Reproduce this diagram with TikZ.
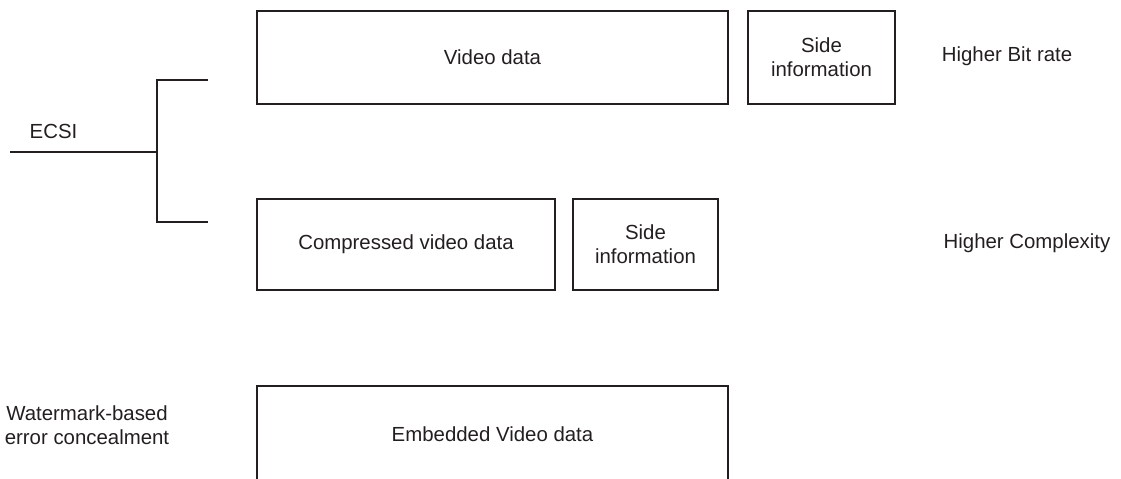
\documentclass[tikz,border=0pt]{standalone}
\usepackage{fontspec}
\setmainfont{Liberation Sans}
\definecolor{ink}{HTML}{231F20}
\begin{document}
\begin{tikzpicture}[x=0.5pt,y=-0.5pt,
  every node/.style={text=ink,font=\fontsize{10.2}{11.8}\selectfont},
  databox/.style={draw=ink,line width=1pt,rectangle,inner sep=0pt,align=center},
  lbl/.style={align=center,inner sep=0pt},
  wire/.style={draw=ink,line width=1pt}]
\useasboundingbox (0,0) rectangle (1121,478);
\clip (0,0) rectangle (1121,478);
% top row
\node[databox,minimum width=235.5pt,minimum height=46.5pt] (vd) at (492.5,57.5) {Video data};
\node[databox,minimum width=73.5pt,minimum height=46.5pt] (si1) at (821.5,57.5) {Side\\information};
\node[lbl] (hbr) at (1007,56) {Higher Bit rate};
% middle row
\node[databox,minimum width=149pt,minimum height=45.5pt] (cvd) at (406,244.5) {Compressed video data};
\node[databox,minimum width=72.5pt,minimum height=45.5pt] (si2) at (645.5,244.5) {Side\\information};
\node[lbl] (hc) at (1027,243) {Higher Complexity};
% bottom row
\node[databox,minimum width=235.5pt,minimum height=48pt] (evd) at (492.5,434) {Embedded Video data};
\node[lbl] (wm) at (87,425) {Watermark-based\\error concealment};
% ECSI bracket
\node[lbl] (ecsi) at (53.5,131) {ECSI};
\coordinate (e0) at (10,152);
\coordinate (ej) at (157,152);
\coordinate (et) at (157,80);
\coordinate (eb) at (157,221.5);
\coordinate (etr) at (207,80);
\coordinate (ebr) at (207,221.5);
\draw[wire] (e0) -- (ej);
\draw[wire,line cap=rect] (etr) -- (et) -- (eb) -- (ebr);
\end{tikzpicture}
\end{document}
